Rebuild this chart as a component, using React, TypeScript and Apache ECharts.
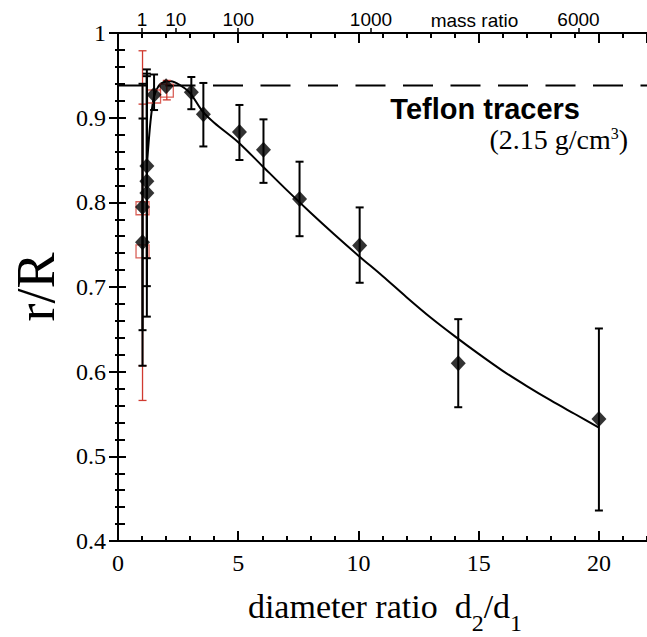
import React, { useEffect, useRef } from "react";
import * as echarts from "echarts";

// ---- data ----
// Black diamonds: diameter ratio d2/d1, r/R, lower and upper error
const blackX = [1.02, 1.02, 1.2, 1.2, 1.2, 1.5, 2.0, 3.05, 3.55, 5.05, 6.05, 7.55, 10.05, 14.15, 20.0];
const blackY = [0.753, 0.7945, 0.811, 0.825, 0.843, 0.927, 0.937, 0.93, 0.904, 0.883, 0.862, 0.804, 0.749, 0.61, 0.544];
const blackLo = [0.607, 0.649, 0.665, 0.701, 0.734, 0.909, 0.937, 0.91, 0.866, 0.85, 0.823, 0.76, 0.705, 0.558, 0.436];
const blackHi = [0.899, 0.94, 0.957, 0.949, 0.952, 0.951, 0.937, 0.948, 0.941, 0.915, 0.898, 0.848, 0.794, 0.662, 0.651];

// Red open squares
const redX = [1.02, 1.02, 1.5, 2.03];
const redY = [0.793, 0.742, 0.925, 0.932];
const redLo = [0.607, 0.566, 0.925, 0.921];
const redHi = [0.979, 0.916, 0.925, 0.944];

// Fitted curve
const fitX = [1.2, 1.35, 1.5, 1.7, 1.9, 2.2, 2.6, 3.0, 3.5, 4.0, 5.0, 6.0, 7.0, 8.0, 9.0, 10.0, 11.0, 12.0, 13.0, 14.0, 15.0, 16.0, 17.0, 18.0, 19.0, 20.0];
const fitY = [0.843, 0.895, 0.925, 0.938, 0.942, 0.943, 0.938, 0.929, 0.908, 0.894, 0.871, 0.843, 0.815, 0.788, 0.762, 0.737, 0.713, 0.688, 0.664, 0.642, 0.621, 0.601, 0.583, 0.566, 0.55, 0.534];

// Dashed plateau
const plateauX = [0, 22];
const plateauY = 0.938;

// Top axis (mass ratio) labels and their positions on the d2/d1 scale
const massRatioLabels = ["1", "10", "100", "1000", "6000"];
const massRatioPos = [1.0, 2.4, 5.0, 10.52, 19.15];

const X_MIN = 0;
const X_MAX = 22;
const Y_MIN = 0.4;
const Y_MAX = 1.0;

const RED = "#d03a30";

function errorBarSeries(xs: number[], lo: number[], hi: number[], color: string, width: number, cap: number) {
  return {
    type: "custom",
    xAxisIndex: 0,
    yAxisIndex: 0,
    data: xs.map((x, i) => [x, lo[i], hi[i]]),
    encode: { x: 0, y: [1, 2] },
    silent: true,
    renderItem: (_params: any, api: any) => {
      const x = api.value(0);
      const l = api.value(1);
      const h = api.value(2);
      if (Math.abs(h - l) < 1e-9) return { type: "group", children: [] };
      const p1 = api.coord([x, l]);
      const p2 = api.coord([x, h]);
      const hw = cap / 2;
      const style = { stroke: color, lineWidth: width, fill: "none" };
      return {
        type: "group",
        children: [
          { type: "line", shape: { x1: p1[0], y1: p1[1], x2: p2[0], y2: p2[1] }, style },
          { type: "line", shape: { x1: p1[0] - hw, y1: p1[1], x2: p1[0] + hw, y2: p1[1] }, style },
          { type: "line", shape: { x1: p2[0] - hw, y1: p2[1], x2: p2[0] + hw, y2: p2[1] }, style },
        ],
      };
    },
  };
}

export default function App() {
  const ref = useRef<HTMLDivElement>(null);

  useEffect(() => {
    document.body.style.margin = "0";
    const chart = echarts.init(ref.current!, null, { renderer: "svg" });

    const gridBox = { left: 118, right: -2, top: 33, bottom: 96 };
    const black = "#000";
    const serif = "Liberation Serif";
    const sans = "Liberation Sans";

    const option: any = {
      animation: false,
      backgroundColor: "#fff",
      grid: [{ ...gridBox }, { ...gridBox }, { ...gridBox }],
      xAxis: [
        {
          gridIndex: 0,
          type: "value",
          position: "bottom",
          min: X_MIN,
          max: X_MAX,
          interval: 5,
          axisLine: { show: true, lineStyle: { color: black, width: 2 } },
          axisTick: { show: true, inside: true, length: 10, lineStyle: { color: black, width: 2 } },
          axisLabel: { show: true, margin: 10, color: black, fontFamily: serif, fontSize: 24, showMaxLabel: false },
          splitLine: { show: false },
        },
        {
          gridIndex: 0,
          type: "value",
          position: "top",
          min: X_MIN,
          max: X_MAX,
          interval: 5,
          axisLine: { show: true, lineStyle: { color: black, width: 2 } },
          axisTick: { show: true, inside: true, length: 10, lineStyle: { color: black, width: 2 } },
          axisLabel: { show: false },
          splitLine: { show: false },
        },
        {
          gridIndex: 1,
          type: "value",
          position: "bottom",
          min: X_MIN,
          max: X_MAX,
          interval: 1,
          axisLine: { show: false },
          axisTick: { show: true, inside: true, length: 5, lineStyle: { color: black, width: 2 } },
          axisLabel: { show: false },
          splitLine: { show: false },
        },
        {
          gridIndex: 1,
          type: "value",
          position: "top",
          min: X_MIN,
          max: X_MAX,
          interval: 1,
          axisLine: { show: false },
          axisTick: { show: true, inside: true, length: 5, lineStyle: { color: black, width: 2 } },
          axisLabel: { show: false },
          splitLine: { show: false },
        },
        {
          gridIndex: 2,
          type: "value",
          position: "top",
          min: X_MIN,
          max: X_MAX,
          axisLine: { show: false },
          axisTick: {
            show: true,
            inside: false,
            length: 5,
            customValues: massRatioPos,
            lineStyle: { color: black, width: 1.5 },
          },
          axisLabel: {
            show: true,
            margin: 4,
            color: black,
            fontFamily: sans,
            fontSize: 19,
            customValues: massRatioPos,
            formatter: (v: number) => {
              const i = massRatioPos.findIndex((p) => Math.abs(p - v) < 1e-6);
              return i >= 0 ? massRatioLabels[i] : "";
            },
          },
          splitLine: { show: false },
        },
      ],
      yAxis: [
        {
          gridIndex: 0,
          type: "value",
          position: "left",
          min: Y_MIN,
          max: Y_MAX,
          interval: 0.1,
          axisLine: { show: true, lineStyle: { color: black, width: 2 } },
          axisTick: { show: true, inside: true, length: 8, lineStyle: { color: black, width: 2 } },
          minorTick: { show: true, splitNumber: 5, length: 7, lineStyle: { color: black, width: 2 } },
          axisLabel: { show: true, margin: 12, color: black, fontFamily: serif, fontSize: 24 },
          splitLine: { show: false },
          minorSplitLine: { show: false },
        },
        {
          gridIndex: 0,
          type: "value",
          position: "right",
          min: Y_MIN,
          max: Y_MAX,
          interval: 0.1,
          axisLine: { show: true, lineStyle: { color: black, width: 2 } },
          axisTick: { show: true, inside: true, length: 9, lineStyle: { color: black, width: 2 } },
          minorTick: { show: true, splitNumber: 5, length: 3, lineStyle: { color: black, width: 2 } },
          axisLabel: { show: false },
          splitLine: { show: false },
          minorSplitLine: { show: false },
        },
        { gridIndex: 1, type: "value", min: Y_MIN, max: Y_MAX, show: false },
        { gridIndex: 2, type: "value", min: Y_MIN, max: Y_MAX, show: false },
      ],
      series: [
        {
          type: "line",
          xAxisIndex: 0,
          yAxisIndex: 0,
          data: plateauX.map((x) => [x, plateauY]),
          showSymbol: false,
          symbol: "none",
          silent: true,
          lineStyle: { color: black, width: 2, type: [30, 17.5] },
          z: 1,
        },
        {
          type: "line",
          xAxisIndex: 0,
          yAxisIndex: 0,
          data: fitX.map((x, i) => [x, fitY[i]]),
          showSymbol: false,
          symbol: "none",
          smooth: 0.3,
          silent: true,
          lineStyle: { color: black, width: 2 },
          z: 2,
        },
        { ...errorBarSeries(redX, redLo, redHi, RED, 1.3, 8), z: 3 },
        {
          type: "scatter",
          xAxisIndex: 0,
          yAxisIndex: 0,
          data: redX.map((x, i) => [x, redY[i]]),
          symbol: "rect",
          symbolSize: 13,
          silent: true,
          itemStyle: { color: "rgba(0,0,0,0)", borderColor: RED, borderWidth: 1.3 },
          z: 4,
        },
        { ...errorBarSeries(blackX, blackLo, blackHi, black, 2, 8), z: 5 },
        {
          type: "scatter",
          xAxisIndex: 0,
          yAxisIndex: 0,
          data: blackX.map((x, i) => [x, blackY[i]]),
          symbol: "diamond",
          symbolSize: [15, 16],
          silent: true,
          itemStyle: { color: black },
          z: 6,
        },
      ],
      graphic: [
        {
          type: "text",
          x: 474.5,
          y: 20,
          style: {
            text: "mass ratio",
            font: `19px "${sans}"`,
            fill: black,
            align: "center",
            verticalAlign: "middle",
          },
        },
        {
          type: "text",
          x: 580,
          y: 108.5,
          style: {
            text: "Teflon tracers",
            font: `bold 29px "${sans}"`,
            lineHeight: 22,
            fill: black,
            align: "right",
            verticalAlign: "middle",
          },
        },
        {
          type: "text",
          x: 628,
          y: 125,
          style: {
            text: "{a|(2.15 g/cm}{b|3}{a|)}",
            align: "right",
            verticalAlign: "top",
            fill: black,
            rich: {
              a: { fontFamily: serif, fontSize: 28, lineHeight: 28, verticalAlign: "bottom", fill: black },
              b: { fontFamily: serif, fontSize: 16, lineHeight: 14, verticalAlign: "top", fill: black },
            },
          },
        },
        {
          type: "text",
          x: 385,
          y: 589,
          style: {
            text: "{m|diameter ratio  d}{s|2}{m|/d}{s|1}",
            align: "center",
            verticalAlign: "top",
            fill: black,
            rich: {
              m: { fontFamily: serif, fontSize: 34, verticalAlign: "top", fill: black },
              s: { fontFamily: serif, fontSize: 24, lineHeight: 46, verticalAlign: "bottom", fill: black },
            },
          },
        },
        {
          type: "text",
          x: 36,
          y: 287,
          rotation: Math.PI / 2,
          style: {
            text: "r/R",
            font: `54px "${serif}"`,
            fill: black,
            align: "center",
            verticalAlign: "middle",
          },
        },
      ],
    };

    chart.setOption(option);
    return () => chart.dispose();
  }, []);

  return <div ref={ref} style={{ width: 647, height: 637 }} />;
}
